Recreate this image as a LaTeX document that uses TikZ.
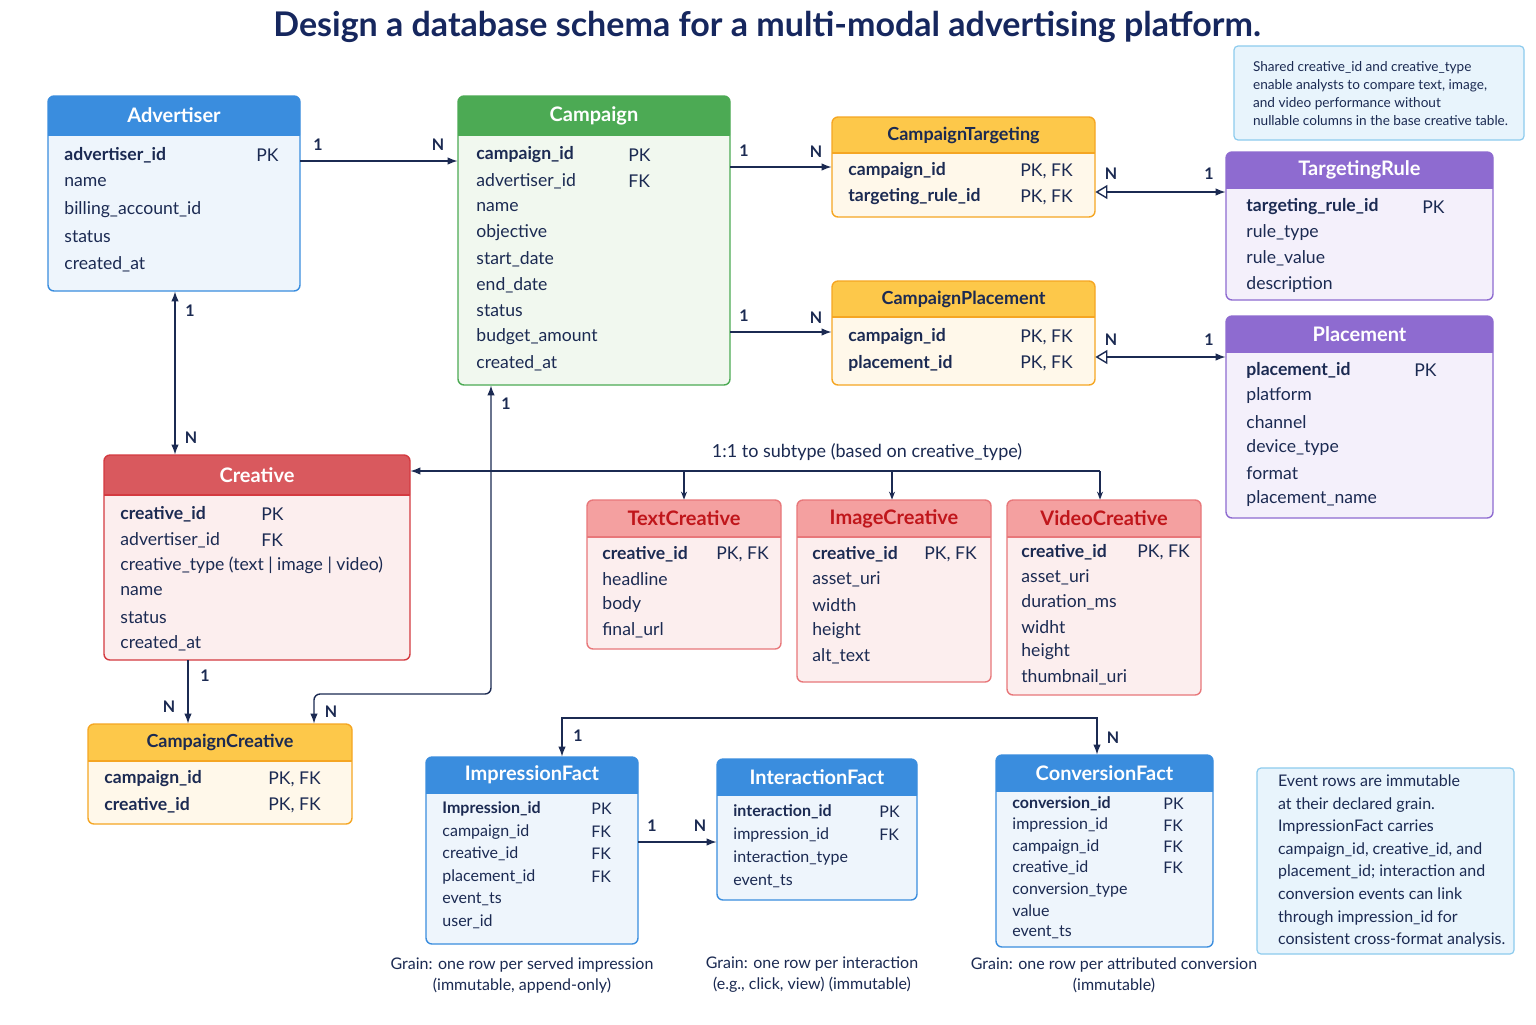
\documentclass[tikz,border=0pt]{standalone}
\usepackage{fontspec}
\setmainfont{Lato}
\usepackage{tikz}
\usetikzlibrary{arrows.meta, positioning, calc, fit}
\definecolor{inknavy}{HTML}{1B2A52}
\definecolor{titlenavy}{HTML}{16275E}
\definecolor{blueh}{HTML}{3A8DDE}
\definecolor{blueb}{HTML}{EEF5FC}
\definecolor{greenh}{HTML}{4CAA54}
\definecolor{greenb}{HTML}{F1F8EF}
\definecolor{yellowh}{HTML}{FDC84A}
\definecolor{yellowl}{HTML}{F5A623}
\definecolor{yellowb}{HTML}{FFF8EA}
\definecolor{purpleh}{HTML}{8E6BD0}
\definecolor{purpleb}{HTML}{F4F0FB}
\definecolor{redh}{HTML}{D9595E}
\definecolor{redl}{HTML}{D43A40}
\definecolor{redb}{HTML}{FCEEEE}
\definecolor{pinkh}{HTML}{F4A0A0}
\definecolor{pinkl}{HTML}{E8777A}
\definecolor{darkred}{HTML}{C0161B}
\definecolor{noteb}{HTML}{E8F4FC}
\definecolor{notel}{HTML}{8CCBEE}

% one entity box: name, x1, y1, x2, y2, header bottom, style, title
\newcommand{\entity}[8]{%
  \coordinate (#1-nw) at (#2,#3);
  \coordinate (#1-se) at (#4,#5);
  \fill[#7 body, rounded corners=3pt] (#2,#3) rectangle (#4,#5);
  \fill[#7 head] (#2,#6) [rounded corners=3pt] -- (#2,#3) -- (#4,#3) [sharp corners] -- (#4,#6) -- cycle;
  \draw[#7 line, rounded corners=3pt] (#2,#3) rectangle (#4,#5);
  \draw[#7 line] (#2,#6) -- (#4,#6);
  \node[fit=(#1-nw)(#1-se), inner sep=0pt] (#1) {};
  \node[#7 title] (#1-title) at ({(#2+#4)/2},{(#3+#6)/2}) {#8};}

% rows: name, x, first y, step, key x, font, list
\newcommand{\rows}[7]{%
  \foreach \f/\k [count=\i from 0] in {#7}{
    \node[row, font=#6] (#1-r\i) at (#2,#3+\i*#4) {\f};
    \node[row, font=#6] (#1-k\i) at (#5,#3+\i*#4) {\k};
  }}

\begin{document}
\catcode`\_=12
\begin{tikzpicture}[x=0.5pt, y=-0.5pt,
    row/.style={anchor=west, inner sep=0pt, text=inknavy},
    blue body/.style={fill=blueb}, blue head/.style={fill=blueh}, blue line/.style={draw=blueh, line width=0.7pt},
    blue title/.style={text=white, font=\fontsize{10}{12}\selectfont\bfseries},
    green body/.style={fill=greenb}, green head/.style={fill=greenh}, green line/.style={draw=greenh, line width=0.7pt},
    green title/.style={text=white, font=\fontsize{10}{12}\selectfont\bfseries},
    yellow body/.style={fill=yellowb}, yellow head/.style={fill=yellowh}, yellow line/.style={draw=yellowl, line width=0.7pt},
    yellow title/.style={text=inknavy, font=\fontsize{9}{11}\selectfont\bfseries},
    purple body/.style={fill=purpleb}, purple head/.style={fill=purpleh}, purple line/.style={draw=purpleh, line width=0.7pt},
    purple title/.style={text=white, font=\fontsize{10}{12}\selectfont\bfseries},
    red body/.style={fill=redb}, red head/.style={fill=redh}, red line/.style={draw=redl, line width=0.7pt},
    red title/.style={text=white, font=\fontsize{10}{12}\selectfont\bfseries},
    pink body/.style={fill=redb}, pink head/.style={fill=pinkh}, pink line/.style={draw=pinkl, line width=0.7pt},
    pink title/.style={text=darkred, font=\fontsize{10}{12}\selectfont\bfseries},
    link/.style={draw=inknavy, line width=0.7pt},
    card/.style={text=inknavy, font=\fontsize{8}{9.6}\selectfont\bfseries, inner sep=1pt},
    note/.style={draw=notel, fill=noteb, line width=0.6pt, rounded corners=2pt},
    caption/.style={text=inknavy, align=center, font=\fontsize{8}{10.5}\selectfont},
]
\useasboundingbox[fill=white] (0,0) rectangle (1536,1024);

% Title
\node[font=\fontsize{17}{20}\selectfont\bfseries, text=titlenavy] (title) at (767,27) {Design a database schema for a multi-modal advertising platform.};

% Entities
\def\fr{\fontsize{8.8}{10}\selectfont}
\def\fs{\fontsize{8}{9}\selectfont}
\entity{adv}{48}{96}{300}{291}{135}{blue}{Advertiser}
\rows{adv}{64}{155}{27.2}{256}{\fr}{\textbf{advertiser_id}/PK, name/{}, billing_account_id/{}, status/{}, created_at/{}}

\entity{camp}{458}{96}{730}{385}{135}{green}{Campaign}
\rows{camp}{476}{155}{26}{628}{\fr}{\textbf{campaign_id}/PK, advertiser_id/FK, name/{}, objective/{}, start_date/{}, end_date/{}, status/{}, budget_amount/{}, created_at/{}}

\entity{ctgt}{832}{117}{1095}{217}{153}{yellow}{CampaignTargeting}
\rows{ctgt}{848}{171}{26}{1020}{\fr}{\textbf{campaign_id}/{PK, FK}, \textbf{targeting_rule_id}/{PK, FK}}

\entity{cplc}{832}{281}{1095}{385}{317}{yellow}{CampaignPlacement}
\rows{cplc}{848}{337}{26}{1020}{\fr}{\textbf{campaign_id}/{PK, FK}, \textbf{placement_id}/{PK, FK}}

\entity{trule}{1226}{152}{1493}{300}{188}{purple}{TargetingRule}
\rows{trule}{1246}{207}{25.7}{1422}{\fr}{\textbf{targeting_rule_id}/PK, rule_type/{}, rule_value/{}, description/{}}

\entity{plc}{1226}{316}{1493}{518}{352}{purple}{Placement}
\rows{plc}{1246}{370}{25.8}{1414}{\fr}{\textbf{placement_id}/PK, platform/{}, channel/{}, device_type/{}, format/{}, placement_name/{}}

\entity{crt}{104}{455}{410}{660}{495}{red}{Creative}
\rows{crt}{120}{514}{25.8}{261}{\fr}{\textbf{creative_id}/PK, advertiser_id/FK, creative_type (text | image | video)/{}, name/{}, status/{}, created_at/{}}

\entity{ccrt}{88}{724}{352}{824}{761}{yellow}{CampaignCreative}
\rows{ccrt}{104}{779}{26}{268}{\fr}{\textbf{campaign_id}/{PK, FK}, \textbf{creative_id}/{PK, FK}}

\entity{txt}{587}{500}{781}{649}{537}{pink}{TextCreative}
\rows{txt}{602}{554}{25.4}{716}{\fr}{\textbf{creative_id}/{PK, FK}, headline/{}, body/{}, final_url/{}}

\entity{img}{797}{500}{991}{682}{537}{pink}{ImageCreative}
\rows{img}{812}{554}{25.5}{924}{\fr}{\textbf{creative_id}/{PK, FK}, asset_uri/{}, width/{}, height/{}, alt_text/{}}

\entity{vid}{1007}{500}{1201}{695}{537}{pink}{VideoCreative}
\rows{vid}{1021}{552}{25}{1137}{\fr}{\textbf{creative_id}/{PK, FK}, asset_uri/{}, duration_ms/{}, widht/{}, height/{}, thumbnail_uri/{}}

\entity{imp}{426}{757}{638}{944}{793}{blue}{ImpressionFact}
\rows{imp}{442}{809}{22.6}{591}{\fs}{\textbf{Impression_id}/PK, campaign_id/FK, creative_id/FK, placement_id/FK, event_ts/{}, user_id/{}}

\entity{inter}{717}{759}{917}{900}{795}{blue}{InteractionFact}
\rows{inter}{733}{812}{23}{879}{\fs}{\textbf{interaction_id}/PK, impression_id/FK, interaction_type/{}, event_ts/{}}

\entity{conv}{996}{755}{1213}{947}{791}{blue}{ConversionFact}
\rows{conv}{1012}{804}{21.4}{1163}{\fs}{\textbf{conversion_id}/PK, impression_id/FK, campaign_id/FK, creative_id/FK, conversion_type/{}, value/{}, event_ts/{}}

% Notes
\node[note, minimum width=145pt, minimum height=47pt] (note1) at (1379,93) {};
\node[anchor=west, text=inknavy, align=left, font=\fontsize{6.8}{9}\selectfont] (note1-text) at (1246,94)
  {Shared creative_id and creative_type\\enable analysts to compare text, image,\\and video performance without\\nullable columns in the base creative table.};
\node[note, minimum width=128.5pt, minimum height=93pt] (note2) at (1385.5,861) {};
\node[anchor=west, text=inknavy, align=left, font=\fontsize{8}{11.3}\selectfont] (note2-text) at (1271,861)
  {Event rows are immutable\\at their declared grain.\\ImpressionFact carries\\campaign_id, creative_id, and\\placement_id; interaction and\\conversion events can link\\through impression_id for\\consistent cross-format analysis.};

% Captions
\node[caption] (cap-imp) at (522,975) {Grain: one row per served impression\\(immutable, append-only)};
\node[caption] (cap-inter) at (812,975) {Grain: one row per interaction\\(e.g., click, view) (immutable)};
\node[caption] (cap-conv) at (1114,975) {Grain: one row per attributed conversion\\(immutable)};

% Connectors
\draw[link, -{Latex[length=5pt]}] (adv.east |- 0,161) -- (camp.west |- 0,161);
\node[card] (c1) at (318,145) {1};
\node[card] (c2) at (438,145) {N};

\draw[link, -{Latex[length=5pt]}] (camp.east |- 0,167) -- (ctgt.west |- 0,167);
\node[card] (c3) at (744,151) {1};
\node[card] (c4) at (816,152) {N};

\draw[link, -{Latex[length=5pt]}] (camp.east |- 0,332) -- (cplc.west |- 0,332);
\node[card] (c5) at (744,316) {1};
\node[card] (c6) at (816,318) {N};

\draw[link, {Triangle[open,length=6pt,width=7pt]}-{Latex[length=5pt]}] (ctgt.east |- 0,192) -- (trule.west |- 0,192);
\node[card] (c7) at (1111,174) {N};
\node[card] (c8) at (1209,174) {1};

\draw[link, {Triangle[open,length=6pt,width=7pt]}-{Latex[length=5pt]}] (cplc.east |- 0,357) -- (plc.west |- 0,357);
\node[card] (c9) at (1111,340) {N};
\node[card] (c10) at (1209,340) {1};

\draw[link, {Latex[length=5pt]}-{Latex[length=5pt]}] (adv.south -| 175,0) -- (crt.north -| 175,0);
\node[card] (c11) at (190,311) {1};
\node[card] (c12) at (191,438) {N};

% creative subtypes
\draw[link, -{Latex[length=5pt]}] (1100,471) -- (crt.east |- 0,471);
\foreach \s/\xx in {txt/684, img/892, vid/1100}
  \draw[link, -{Stealth[length=4pt]}] (\xx,471) -- (\s.north -| \xx,0);
\node[text=inknavy, font=\fontsize{9}{11}\selectfont] (sublabel) at (867,452) {1:1 to subtype (based on creative_type)};

\draw[link, -{Latex[length=5pt]}] (crt.south -| 188,0) -- (ccrt.north -| 188,0);
\node[card] (c13) at (205,676) {1};
\node[card] (c14) at (169,707) {N};

\draw[link, {Latex[length=5pt]}-{Latex[length=5pt]}, rounded corners=3pt] (camp.south -| 491,0) -- (491,694) -- (314,694) -- (ccrt.north -| 314,0);
\node[card] (c15) at (506,404) {1};
\node[card] (c16) at (331,712) {N};

\draw[link, -{Latex[length=5pt]}] (imp.east |- 0,842) -- (inter.west |- 0,842);
\node[card] (c17) at (652,826) {1};
\node[card] (c18) at (700,826) {N};

\draw[link, {Latex[length=5pt]}-{Latex[length=5pt]}] (imp.north -| 562,0) -- (562,718) -- (1097,718) -- (conv.north -| 1097,0);
\node[card] (c19) at (578,736) {1};
\node[card] (c20) at (1113,738) {N};
\end{tikzpicture}
\end{document}
